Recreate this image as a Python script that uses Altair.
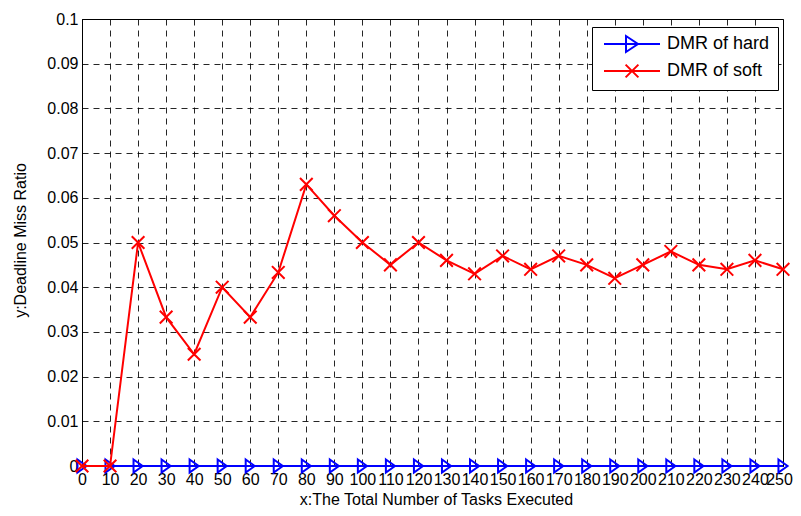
import altair as alt
import pandas as pd

x_vals = [0, 10, 20, 30, 40, 50, 60, 70, 80, 90, 100, 110, 120, 130, 140, 150,
          160, 170, 180, 190, 200, 210, 220, 230, 240, 250]
hard_vals = [0.0] * 26
soft_vals = [0, 0, 0.05, 0.0333, 0.025, 0.04, 0.0333, 0.0433, 0.063, 0.056, 0.05,
             0.045, 0.05, 0.046, 0.043, 0.047, 0.044, 0.047, 0.045, 0.042, 0.045,
             0.048, 0.045, 0.044, 0.046, 0.044]
series_names = ["DMR of hard", "DMR of soft"]
series_colors = ["#0000FF", "#FF0000"]
y_ticks = [0, 0.01, 0.02, 0.03, 0.04, 0.05, 0.06, 0.07, 0.08, 0.09, 0.1]

rows = []
for xv, h in zip(x_vals, hard_vals):
    rows.append({"x": xv, "y": h, "series": series_names[0]})
for xv, s in zip(x_vals, soft_vals):
    rows.append({"x": xv, "y": s, "series": series_names[1]})
df = pd.DataFrame(rows)

FONT = "Liberation Sans"

tri_path = "M-0.7,-1L0.7,0L-0.7,1Z"
x_path = "M-1,-1L1,1M-1,1L1,-1"
leg_tri = "M-3.5,0H3.5M-0.75,-1L0.75,0L-0.75,1Z"
leg_x = "M-3.5,0H3.5M-0.8,-0.8L0.8,0.8M-0.8,0.8L0.8,-0.8"

xenc = alt.X("x:Q", scale=alt.Scale(domain=[0, 250], nice=False, zero=False),
             axis=alt.Axis(values=x_vals, title="x:The Total Number of Tasks Executed",
                           labelOverlap=False, labelFlush=False, labelBound=False,
                           ticks=False, labelPadding=5,
                           labelOffset={"condition": {"test": "datum.value == 250", "value": -4},
                                        "value": 0},
                           titleX=354, titleY=33, titleBaseline="middle",
                           titleAnchor="middle"))
yenc = alt.Y("y:Q", scale=alt.Scale(domain=[0, 0.1], nice=False),
             axis=alt.Axis(values=y_ticks, title="y:Deadline Miss Ratio",
                           labelExpr="format(datum.value, '.2~f')",
                           labelOverlap=False, labelFlush=False, ticks=False,
                           labelPadding=4, titleX=-62, titleY=221,
                           titleBaseline="middle", titleAnchor="middle"))

color = alt.Color("series:N", scale=alt.Scale(domain=series_names, range=series_colors),
                  legend=alt.Legend(
                      title=None, orient="none", legendX=510, legendY=8,
                      strokeColor="black", fillColor="white", padding=8,
                      symbolSize=256, symbolStrokeWidth=2, symbolOffset=23,
                      labelOffset=26, labelFontSize=18, labelFont=FONT,
                      labelColor="black", rowPadding=4, cornerRadius=0,
                      symbolFillColor="transparent"))
leg_shape = alt.Shape("series:N", scale=alt.Scale(domain=series_names, range=[leg_tri, leg_x]))

base = alt.Chart(df)
layers = []
for name, path, sz in zip(series_names, [tri_path, x_path], [169, 160]):
    sub = base.transform_filter(alt.datum.series == name)
    layers.append(sub.mark_line(strokeWidth=2).encode(x=xenc, y=yenc, color=color))
    layers.append(sub.mark_point(filled=False, strokeWidth=2, size=sz, opacity=1, shape=path).encode(
        x=xenc, y=yenc, color=color))

# legend-only layer (no rows pass the filter); it carries the legend symbol shapes
ghost = base.transform_filter("false").mark_point(filled=False, strokeWidth=2, size=256, opacity=1).encode(
    x=xenc, y=yenc, color=color, shape=leg_shape)
layers.append(ghost)

chart = alt.layer(*layers).properties(
    width=701, height=447,
    autosize=alt.AutoSizeParams(type="none"),
    padding={"left": 74, "top": 11, "right": 10, "bottom": 42},
    background="white",
).configure_view(stroke="black", strokeWidth=1).configure_axis(
    gridColor="black", gridDash=[6, 5], gridWidth=1, gridOpacity=0.85,
    domainColor="black", domainWidth=1,
    labelFont=FONT, labelFontSize=16, labelColor="black",
    titleFont=FONT, titleFontSize=16, titleColor="black", titleFontWeight="normal",
)

chart.save("out.html", embed_options={"renderer": "svg", "actions": False})
